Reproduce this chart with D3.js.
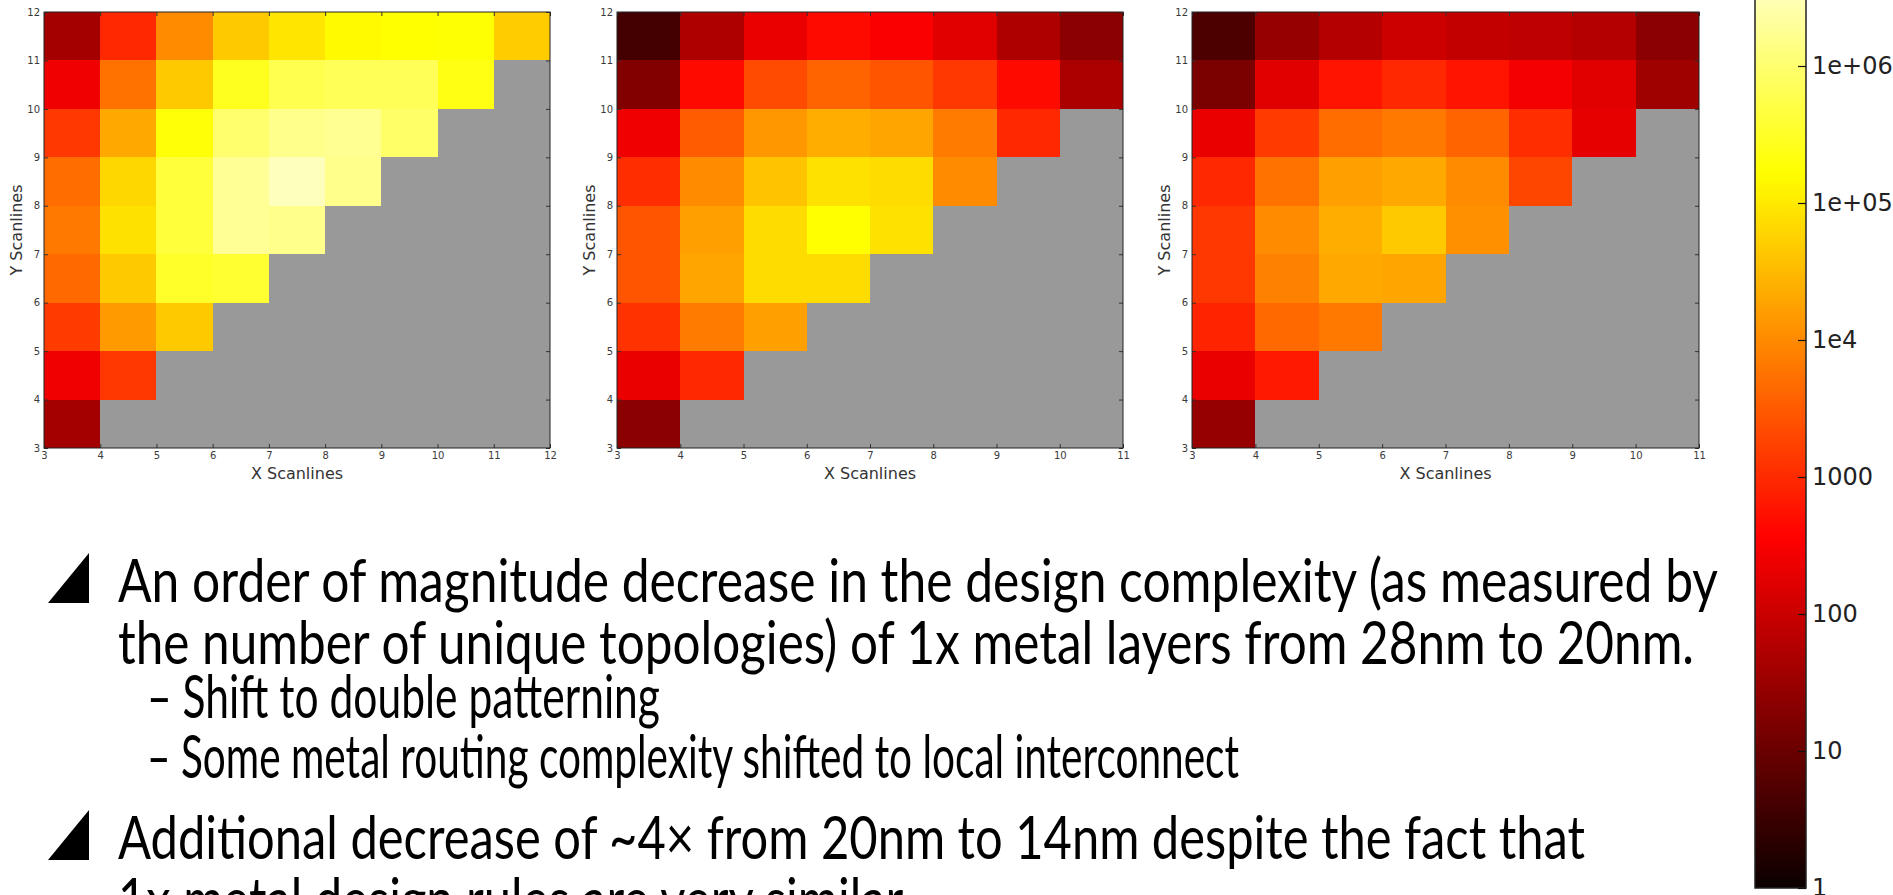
<!DOCTYPE html>
<html>
<head>
<meta charset="utf-8">
<script src="https://cdn.jsdelivr.net/npm/d3@7"></script>
<style>
  html, body { margin: 0; padding: 0; background: #fff; overflow: hidden; }
  svg { display: block; }
</style>
</head>
<body>
<svg id="chart" width="1893" height="895"></svg>
<script>
// Unique-topology counts per scan window (X scanlines x Y scanlines).
// One row per Y start (3..11); each row lists X = 3, 4, ... up to X <= Y.
const yStarts = [3, 4, 5, 6, 7, 8, 9, 10, 11];

const counts28nm = [
  [41],
  [250, 1350],
  [1500, 15000, 45000],
  [4500, 45000, 320000, 370000],
  [6500, 81000, 440000, 1860000, 1580000],
  [5000, 63000, 440000, 1860000, 3470000, 1580000],
  [1350, 21000, 190000, 980000, 1580000, 1740000, 870000],
  [250, 5600, 45000, 270000, 600000, 680000, 680000, 230000],
  [41, 950, 10500, 45000, 91000, 148000, 166000, 178000, 49000]
];

const counts20nm = [
  [22],
  [220, 950],
  [1200, 7200, 17000],
  [2750, 19000, 72000, 72000],
  [2750, 17000, 72000, 166000, 81000],
  [1070, 10500, 39000, 81000, 72000, 10500],
  [250, 3200, 13500, 24000, 19000, 7200, 950],
  [18, 460, 2200, 4000, 2750, 1350, 460, 47],
  [4, 52, 220, 460, 320, 175, 52, 22]
];

const counts14nm = [
  [29],
  [220, 660],
  [830, 4500, 6500],
  [1350, 8100, 21000, 19000],
  [1350, 10500, 24000, 45000, 11700],
  [950, 5600, 17000, 21000, 10500, 1950],
  [220, 1500, 5000, 6500, 4000, 1070, 195],
  [15, 175, 580, 950, 580, 280, 175, 36],
  [5, 29, 59, 107, 85, 76, 59, 22]
];

// Axis ticks
const yTicks = [3, 4, 5, 6, 7, 8, 9, 10, 11, 12];
const xTicksWide = [3, 4, 5, 6, 7, 8, 9, 10, 11, 12];
const xTicksNarrow = [3, 4, 5, 6, 7, 8, 9, 10, 11];

// Colour bar ticks
const cbarValues = [1, 10, 100, 1000, 1e4, 1e5, 1e6];
const cbarLabels = ["1", "10", "100", "1000", "1e4", "1e+05", "1e+06"];
const cbarDomain = [1, 1e7];

// Slide bullets
const bulletLines = [
  { level: 1, text: "An order of magnitude decrease in the design complexity (as measured by" },
  { level: 0, text: "the number of unique topologies) of 1x metal layers from 28nm to 20nm." },
  { level: 2, text: "\u2013 Shift to double patterning" },
  { level: 2, text: "\u2013 Some metal routing complexity shifted to local interconnect" },
  { level: 1, text: "Additional decrease of ~4\u00d7 from 20nm to 14nm despite the fact that" },
  { level: 0, text: "1x metal design rules are very similar" }
];

// ---------------------------------------------------------------------------
const svg = d3.select("#chart");

// matplotlib "hot" colormap
function hot(t) {
  t = Math.max(0, Math.min(1, t));
  const a = 0.365079, b = 0.746032;
  const r = t < a ? 0.0416 + (1 - 0.0416) * t / a : 1;
  const g = t < a ? 0 : (t < b ? (t - a) / (b - a) : 1);
  const bl = t < b ? 0 : (t - b) / (1 - b);
  return d3.rgb(r * 255, g * 255, bl * 255).formatHex();
}
const norm = d3.scaleLog().domain(cbarDomain).range([0, 1]).clamp(true);
const colorOf = v => hot(norm(v));

const panels = [
  { data: counts28nm, xTicks: xTicksWide,   x0: 44,   x1: 550 },
  { data: counts20nm, xTicks: xTicksNarrow, x0: 617,  x1: 1123 },
  { data: counts14nm, xTicks: xTicksNarrow, x0: 1192, x1: 1699 }
];
const plotTop = 12, plotBottom = 448;

panels.forEach(p => {
  const xs = d3.scaleLinear().domain(d3.extent(p.xTicks)).range([p.x0, p.x1]);
  const ys = d3.scaleLinear().domain(d3.extent(yTicks)).range([plotBottom, plotTop]);
  const g = svg.append("g");

  // missing windows show the grey axes background
  g.append("rect")
    .attr("x", p.x0).attr("y", plotTop)
    .attr("width", p.x1 - p.x0).attr("height", plotBottom - plotTop)
    .attr("fill", "#999999");

  const cells = [];
  p.data.forEach((row, ri) => {
    row.forEach((v, ci) => cells.push({ x: 3 + ci, y: yStarts[ri], v }));
  });

  g.selectAll("rect.cell").data(cells).join("rect")
    .attr("class", "cell")
    .attr("x", d => xs(d.x))
    .attr("y", d => ys(d.y + 1))
    .attr("width", d => xs(d.x + 1) - xs(d.x))
    .attr("height", d => ys(d.y) - ys(d.y + 1))
    .attr("fill", d => colorOf(d.v))
    .attr("shape-rendering", "crispEdges");

  const tickFont = sel => sel.selectAll("text")
    .attr("font-family", "DejaVu Sans")
    .attr("font-size", 10)
    .attr("fill", "#3a3a3a");

  const styleAxis = sel => {
    sel.select(".domain").remove();
    sel.selectAll(".tick line").attr("stroke", "#333").attr("stroke-width", 1);
  };

  g.append("g").attr("transform", `translate(0,${plotBottom})`)
    .call(d3.axisBottom(xs).tickValues(p.xTicks).tickFormat(d3.format("d")).tickSize(-4).tickPadding(4))
    .call(styleAxis).call(tickFont);
  g.append("g").attr("transform", `translate(0,${plotTop})`)
    .call(d3.axisTop(xs).tickValues(p.xTicks).tickFormat("").tickSize(-4))
    .call(styleAxis);
  g.append("g").attr("transform", `translate(${p.x0},0)`)
    .call(d3.axisLeft(ys).tickValues(yTicks).tickFormat(d3.format("d")).tickSize(-4).tickPadding(4))
    .call(styleAxis).call(tickFont);
  g.append("g").attr("transform", `translate(${p.x1},0)`)
    .call(d3.axisRight(ys).tickValues(yTicks).tickFormat("").tickSize(-4))
    .call(styleAxis);

  // spine
  g.append("rect")
    .attr("x", p.x0).attr("y", plotTop)
    .attr("width", p.x1 - p.x0).attr("height", plotBottom - plotTop)
    .attr("fill", "none").attr("stroke", "#222").attr("stroke-width", 1);

  g.append("text")
    .attr("x", (p.x0 + p.x1) / 2).attr("y", 479)
    .attr("text-anchor", "middle")
    .attr("font-family", "DejaVu Sans").attr("font-size", 16)
    .attr("fill", "#333")
    .text("X Scanlines");

  g.append("text")
    .attr("transform", `translate(${p.x0 - 28},${(plotTop + plotBottom) / 2}) rotate(-90)`)
    .attr("text-anchor", "middle")
    .attr("dominant-baseline", "central")
    .attr("font-family", "DejaVu Sans").attr("font-size", 16)
    .attr("fill", "#333")
    .text("Y Scanlines");
});

// ---------------------------------------------------------------------------
// Colour bar
const cbX0 = 1755, cbX1 = 1806;
const cbY = d3.scaleLog().domain(cbarDomain).range([888, 888 - 7 * 137]);

const defs = svg.append("defs");
const grad = defs.append("linearGradient")
  .attr("id", "hotGrad").attr("x1", 0).attr("y1", 1).attr("x2", 0).attr("y2", 0);
grad.selectAll("stop").data(d3.range(0, 1.0001, 0.01)).join("stop")
  .attr("offset", d => d)
  .attr("stop-color", d => hot(d));

svg.append("rect")
  .attr("x", cbX0).attr("y", cbY(cbarDomain[1]))
  .attr("width", cbX1 - cbX0).attr("height", cbY(cbarDomain[0]) - cbY(cbarDomain[1]))
  .attr("fill", "url(#hotGrad)")
  .attr("stroke", "#222").attr("stroke-width", 1.5);

const cbAxis = svg.append("g").attr("transform", `translate(${cbX1},0)`)
  .call(d3.axisRight(cbY).tickValues(cbarValues).tickFormat((d, i) => cbarLabels[i]).tickSize(-8).tickPadding(6));
cbAxis.select(".domain").remove();
cbAxis.selectAll(".tick line").attr("stroke", "#111").attr("stroke-width", 1.2);
cbAxis.selectAll("text")
  .attr("font-family", "DejaVu Sans").attr("font-size", 24).attr("fill", "#222");

// ---------------------------------------------------------------------------
// Bullet text
const lineLayout = [
  { x: 118, y: 602, w: 1600 },
  { x: 118, y: 664, w: 1576 },
  { x: 147, y: 718, w: 513 },
  { x: 147, y: 778, w: 1092 },
  { x: 118, y: 859, w: 1467 },
  { x: 118, y: 921, w: null }
];

const textG = svg.append("g").attr("font-family", "Lato").attr("font-size", 60).attr("fill", "#000");
let squeeze = 1;
bulletLines.forEach((ln, i) => {
  const L = lineLayout[i];
  const t = textG.append("text").attr("x", L.x).attr("y", L.y).text(ln.text);
  const natural = t.node().getComputedTextLength();
  if (L.w) {
    squeeze = L.w / natural;
    t.attr("textLength", L.w).attr("lengthAdjust", "spacingAndGlyphs");
  } else {
    t.attr("textLength", natural * squeeze).attr("lengthAdjust", "spacingAndGlyphs");
  }
  if (ln.level === 1) {
    const bx0 = 48, bx1 = 89, by1 = L.y + 1, by0 = L.y - 49;
    svg.append("path")
      .attr("d", `M${bx0},${by1}L${bx1},${by1}L${bx1},${by0}Z`)
      .attr("fill", "#000");
  }
});
</script>
</body>
</html>
